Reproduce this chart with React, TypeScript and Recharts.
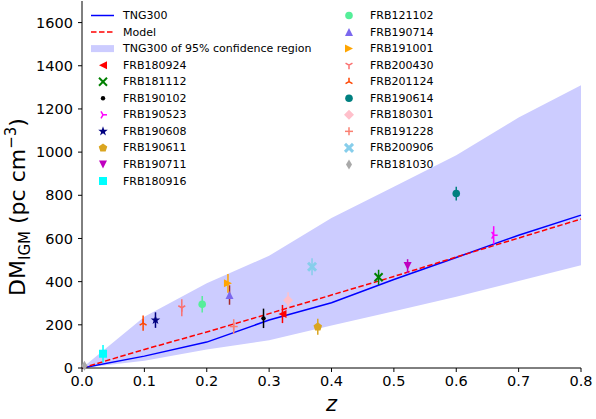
import React from 'react'
import { ComposedChart, Area, Line, Scatter, XAxis, YAxis, ErrorBar } from 'recharts'

// TNG300 median, model and 95% band on a 0.1 grid in z
const Z_GRID = [0, 0.1, 0.2, 0.3, 0.4, 0.5, 0.6, 0.7, 0.8]
const TNG300 = [0, 55, 120, 222, 302, 410, 512, 615, 708]
const MODEL = [0, 86, 167, 252, 338, 424, 514, 602, 690]
const BAND_LO = [0, 34, 86, 128, 197, 263, 330, 403, 476]
const BAND_HI = [0, 237, 392, 520, 695, 840, 985, 1160, 1310]

// localized FRBs
const FRB_NAMES = [
  'FRB180924', 'FRB181112', 'FRB190102', 'FRB190523', 'FRB190608', 'FRB190611', 'FRB190711', 'FRB180916',
  'FRB121102', 'FRB190714', 'FRB191001', 'FRB200430', 'FRB201124', 'FRB190614', 'FRB180301', 'FRB191228',
  'FRB200906', 'FRB181030',
]
const FRB_Z = [0.3214, 0.4755, 0.291, 0.66, 0.1178, 0.378, 0.522, 0.0337, 0.1927, 0.2365, 0.234, 0.16, 0.098, 0.6, 0.3304, 0.2432, 0.3688, 0.0039]
const FRB_DM = [250, 420, 230, 615, 222, 191, 472, 66, 295, 338, 392, 279, 208, 808, 314, 192, 469, 10]
const FRB_ERR = [42, 35, 45, 42, 36, 37, 32, 40, 38, 45, 44, 39, 35, 32, 37, 34, 39, 8]
const FRB_COLORS = [
  '#ff0000', '#008000', '#000000', '#ff00ff', '#000080', '#daa520', '#bf00bf', '#00ffff',
  '#55ee99', '#7b68ee', '#ffa500', '#fa7070', '#ff4500', '#008080', '#ffc0cb', '#fa8072',
  '#87ceeb', '#a9a9a9',
]
const FRB_ECOLORS = [
  '#ff0000', '#008000', '#000000', '#ff00ff', '#000080', '#daa520', '#bf00bf', '#00ffff',
  '#55ee99', '#a52a2a', '#ffa500', '#fa7070', '#ff4500', '#008080', '#ffc0cb', '#fa8072',
  '#87ceeb', '#a9a9a9',
]
const FRB_MARKERS = ['<', 'x', '.', '4', '*', 'p', 'v', 's', 'o', '^', '>', '1', '2', 'o', 'D', '+', 'X', 'd']

const X_TICKS = [0, 0.1, 0.2, 0.3, 0.4, 0.5, 0.6, 0.7, 0.8]
const Y_TICKS = [0, 200, 400, 600, 800, 1000, 1200, 1400, 1600]

const FONT = 'DejaVu Sans, Verdana, sans-serif'

const lineData = Z_GRID.map((z, i) => ({ z, tng: TNG300[i], model: MODEL[i], band: [BAND_LO[i], BAND_HI[i]] }))

function polyPts(cx: number, cy: number, n: number, rOut: number, rIn?: number) {
  const pts: string[] = []
  const k = rIn ? n * 2 : n
  for (let i = 0; i < k; i++) {
    const a = -Math.PI / 2 + (i * 2 * Math.PI) / k
    const r = rIn && i % 2 ? rIn : rOut
    pts.push(`${cx + r * Math.cos(a)},${cy + r * Math.sin(a)}`)
  }
  return pts.join(' ')
}

function Marker({ kind, color, cx, cy }: { kind: string; color: string; cx: number; cy: number }) {
  const r = 4
  switch (kind) {
    case '<':
      return <polygon points={`${cx - r},${cy} ${cx + r},${cy - r} ${cx + r},${cy + r}`} fill={color} />
    case '>':
      return <polygon points={`${cx + r},${cy} ${cx - r},${cy - r} ${cx - r},${cy + r}`} fill={color} />
    case '^':
      return <polygon points={`${cx},${cy - r} ${cx - r},${cy + r} ${cx + r},${cy + r}`} fill={color} />
    case 'v':
      return <polygon points={`${cx},${cy + r} ${cx - r},${cy - r} ${cx + r},${cy - r}`} fill={color} />
    case 'x':
      return (
        <g stroke={color} strokeWidth={2}>
          <line x1={cx - r} y1={cy - r} x2={cx + r} y2={cy + r} />
          <line x1={cx - r} y1={cy + r} x2={cx + r} y2={cy - r} />
        </g>
      )
    case 'X':
      return (
        <g stroke={color} strokeWidth={3}>
          <line x1={cx - r} y1={cy - r} x2={cx + r} y2={cy + r} />
          <line x1={cx - r} y1={cy + r} x2={cx + r} y2={cy - r} />
        </g>
      )
    case '+':
      return (
        <g stroke={color} strokeWidth={1.5}>
          <line x1={cx - r} y1={cy} x2={cx + r} y2={cy} />
          <line x1={cx} y1={cy - r} x2={cx} y2={cy + r} />
        </g>
      )
    case '.':
      return <circle cx={cx} cy={cy} r={2.2} fill={color} />
    case 'o':
      return <circle cx={cx} cy={cy} r={3.8} fill={color} />
    case 's':
      return <rect x={cx - r} y={cy - r} width={2 * r} height={2 * r} fill={color} />
    case 'D':
      return <polygon points={`${cx},${cy - 5} ${cx + 5},${cy} ${cx},${cy + 5} ${cx - 5},${cy}`} fill={color} />
    case 'd':
      return <polygon points={`${cx},${cy - 5} ${cx + 3},${cy} ${cx},${cy + 5} ${cx - 3},${cy}`} fill={color} />
    case 'p':
      return <polygon points={polyPts(cx, cy, 5, 4.5)} fill={color} />
    case '*':
      return <polygon points={polyPts(cx, cy, 5, 5, 2)} fill={color} />
    case '1': // tri_down
    case '2': // tri_up
    case '4': {
      // tri_right
      const base = kind === '1' ? Math.PI / 2 : kind === '2' ? -Math.PI / 2 : 0
      return (
        <g stroke={color} strokeWidth={1.5}>
          {[0, 1, 2].map((j) => {
            const a = base + (j * 2 * Math.PI) / 3
            return <line key={j} x1={cx} y1={cy} x2={cx + r * Math.cos(a)} y2={cy + r * Math.sin(a)} />
          })}
        </g>
      )
    }
    default:
      return <circle cx={cx} cy={cy} r={3} fill={color} />
  }
}

function LegendBox() {
  const rowY = (i: number) => 15.5 + i * 16.55
  const left = FRB_NAMES.slice(0, 8)
  const right = FRB_NAMES.slice(8)
  const txt = { fontSize: 11, fontFamily: FONT, fill: '#000', dominantBaseline: 'central' as const }
  return (
    <svg width={596} height={200} style={{ position: 'absolute', left: 0, top: 0, pointerEvents: 'none' }}>
      <line x1={91} x2={114} y1={rowY(0)} y2={rowY(0)} stroke="#0000ff" strokeWidth={1.5} />
      <text x={123} y={rowY(0)} {...txt}>TNG300</text>
      <line x1={91} x2={114} y1={rowY(1)} y2={rowY(1)} stroke="#ff0000" strokeWidth={1.5} strokeDasharray="5.5 2.5" />
      <text x={123} y={rowY(1)} {...txt}>Model</text>
      <rect x={91} y={rowY(2) - 3.5} width={23} height={7} fill="#ccccff" />
      <text x={123} y={rowY(2)} {...txt}>TNG300 of 95% confidence region</text>
      {left.map((n, i) => (
        <g key={n}>
          <Marker kind={FRB_MARKERS[i]} color={FRB_COLORS[i]} cx={103} cy={rowY(i + 3)} />
          <text x={123} y={rowY(i + 3)} {...txt}>{n}</text>
        </g>
      ))}
      {right.map((n, i) => (
        <g key={n}>
          <Marker kind={FRB_MARKERS[i + 8]} color={FRB_COLORS[i + 8]} cx={349} cy={rowY(i)} />
          <text x={370} y={rowY(i)} {...txt}>{n}</text>
        </g>
      ))}
    </svg>
  )
}

function YLabel() {
  return (
    <text transform="rotate(-90, 25, 207)" x={25} y={207} textAnchor="middle" fontSize={22} fontFamily={FONT} fill="#000">
      DM<tspan dy={5} fontSize={15}>IGM</tspan>
      <tspan dy={-5}> (pc cm</tspan>
      <tspan dy={-9} fontSize={15}>−3</tspan>
      <tspan dy={9}>)</tspan>
    </text>
  )
}

export default function App() {
  const tick = { fill: '#000', fontSize: 14.5, fontFamily: FONT }
  return (
    <div style={{ position: 'absolute', left: 0, top: 0, width: 596, height: 419, background: '#fff', fontFamily: FONT }}>
      <ComposedChart width={596} height={419} data={lineData} margin={{ top: 1, right: 15, bottom: 0, left: 0 }}>
        <XAxis
          dataKey="z"
          type="number"
          domain={[0, 0.8]}
          ticks={X_TICKS}
          tickFormatter={(v: number) => v.toFixed(1)}
          tick={tick}
          tickSize={4}
          tickMargin={4}
          height={51}
          stroke="#000"
          label={{ value: 'z', position: 'insideBottom', offset: 8, style: { fontStyle: 'italic', fontSize: 21, fill: '#000', fontFamily: FONT } }}
        />
        <YAxis
          type="number"
          domain={[0, 1700]}
          ticks={Y_TICKS}
          tick={tick}
          tickSize={4}
          tickMargin={5}
          width={82}
          stroke="#000"
          label={<YLabel />}
        />
        <XAxis xAxisId="top" orientation="top" type="number" domain={[0, 0.8]} tick={false} tickLine={false} height={0} stroke="#000" />
        <YAxis yAxisId="right" orientation="right" type="number" domain={[0, 1700]} tick={false} tickLine={false} width={0} stroke="#000" />
        <Area dataKey="band" type="linear" fill="#ccccff" fillOpacity={1} stroke="none" isAnimationActive={false} />
        <Line dataKey="tng" type="linear" stroke="#0000ff" strokeWidth={1.5} dot={false} isAnimationActive={false} />
        <Line dataKey="model" type="linear" stroke="#ff0000" strokeWidth={1.5} strokeDasharray="5.5 2.5" dot={false} isAnimationActive={false} />
        {FRB_NAMES.map((name, i) => (
          <Scatter
            key={name}
            name={name}
            data={[{ z: FRB_Z[i], dm: FRB_DM[i], err: FRB_ERR[i] }]}
            dataKey="dm"
            isAnimationActive={false}
            shape={(p: any) => <Marker kind={FRB_MARKERS[i]} color={FRB_COLORS[i]} cx={p.cx} cy={p.cy} />}
          >
            <ErrorBar dataKey="err" direction="y" width={0} stroke={FRB_ECOLORS[i]} strokeWidth={1.5} isAnimationActive={false} />
          </Scatter>
        ))}
      </ComposedChart>
      <LegendBox />
    </div>
  )
}
